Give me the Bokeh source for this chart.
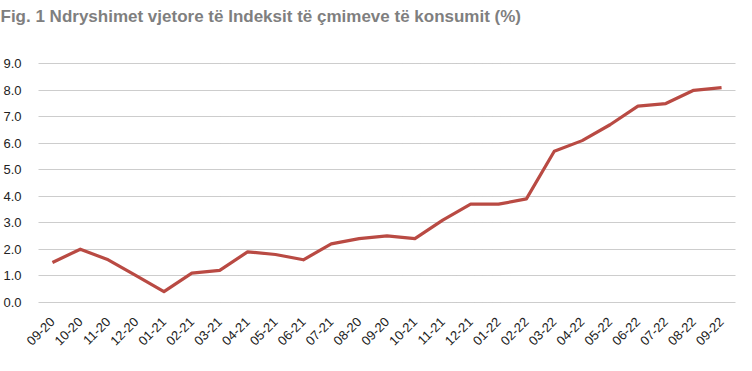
import numpy as np
from bokeh.plotting import figure
from bokeh.models import ColumnDataSource, FixedTicker, Range1d, NumeralTickFormatter, Title
from bokeh.embed import file_html
from bokeh.resources import INLINE

# Data
months = ["09-20", "10-20", "11-20", "12-20", "01-21", "02-21", "03-21", "04-21",
          "05-21", "06-21", "07-21", "08-20", "09-20", "10-21", "11-21", "12-21",
          "01-22", "02-22", "03-22", "04-22", "05-22", "06-22", "07-22", "08-22", "09-22"]
inflation = [1.5, 2.0, 1.6, 1.0, 0.4, 1.1, 1.2, 1.9, 1.8, 1.6, 2.2, 2.4, 2.5,
             2.4, 3.1, 3.7, 3.7, 3.9, 5.7, 6.1, 6.7, 7.4, 7.5, 8.0, 8.1]
y_ticks = [0, 1, 2, 3, 4, 5, 6, 7, 8, 9]
title_text = "Fig. 1 Ndryshimet vjetore t\u00eb Indeksit t\u00eb \u00e7mimeve t\u00eb konsumit  (%)"

idx = list(range(len(months)))
src = ColumnDataSource(dict(x=idx, y=inflation))

p = figure(frame_width=697, frame_height=241, output_backend="svg", toolbar_location=None,
           x_range=Range1d(-0.5, len(months) - 0.5), y_range=Range1d(-0.05, 9.05),
           min_border_left=36, min_border_right=12, min_border_bottom=0, min_border_top=0)

# spacer between the title and the plot area
spacer = Title(text=" ", text_font_size="10px", standoff=16)
p.add_layout(spacer, "above")

p.title.text = title_text
p.title.text_font = "Liberation Sans"
p.title.text_font_size = "17px"
p.title.text_font_style = "bold"
p.title.text_color = "#7f7f7f"
p.title.vertical_align = "top"
p.title.standoff = 12
p.title.offset = -38
p.title.align = "left"

p.outline_line_color = None
p.background_fill_color = "white"
p.border_fill_color = "white"

p.line("x", "y", source=src, line_color="#B94A43", line_width=3.2, line_join="round")

# y axis
p.yaxis.ticker = FixedTicker(ticks=y_ticks)
p.yaxis.formatter = NumeralTickFormatter(format="0.0")
p.yaxis.axis_line_color = None
p.yaxis.major_tick_line_color = None
p.yaxis.minor_tick_line_color = None
p.yaxis.major_label_text_font = "Liberation Sans"
p.yaxis.major_label_text_font_size = "13px"
p.yaxis.major_label_text_color = "#222222"
p.yaxis.major_label_standoff = 11

# x axis
p.xaxis.ticker = FixedTicker(ticks=idx)
p.xaxis.major_label_overrides = {i: m for i, m in enumerate(months)}
p.xaxis.major_label_orientation = np.pi / 4
p.xaxis.axis_line_color = None
p.xaxis.major_tick_line_color = None
p.xaxis.minor_tick_line_color = None
p.xaxis.major_label_text_font = "Liberation Sans"
p.xaxis.major_label_text_font_size = "13px"
p.xaxis.major_label_text_color = "#222222"
p.xaxis.major_label_standoff = 10

p.xgrid.grid_line_color = None
p.ygrid.grid_line_color = "#9a9a9a"
p.ygrid.grid_line_dash = "1 1"
p.ygrid.grid_line_width = 1

open("out.html", "w").write(file_html(p, INLINE))
